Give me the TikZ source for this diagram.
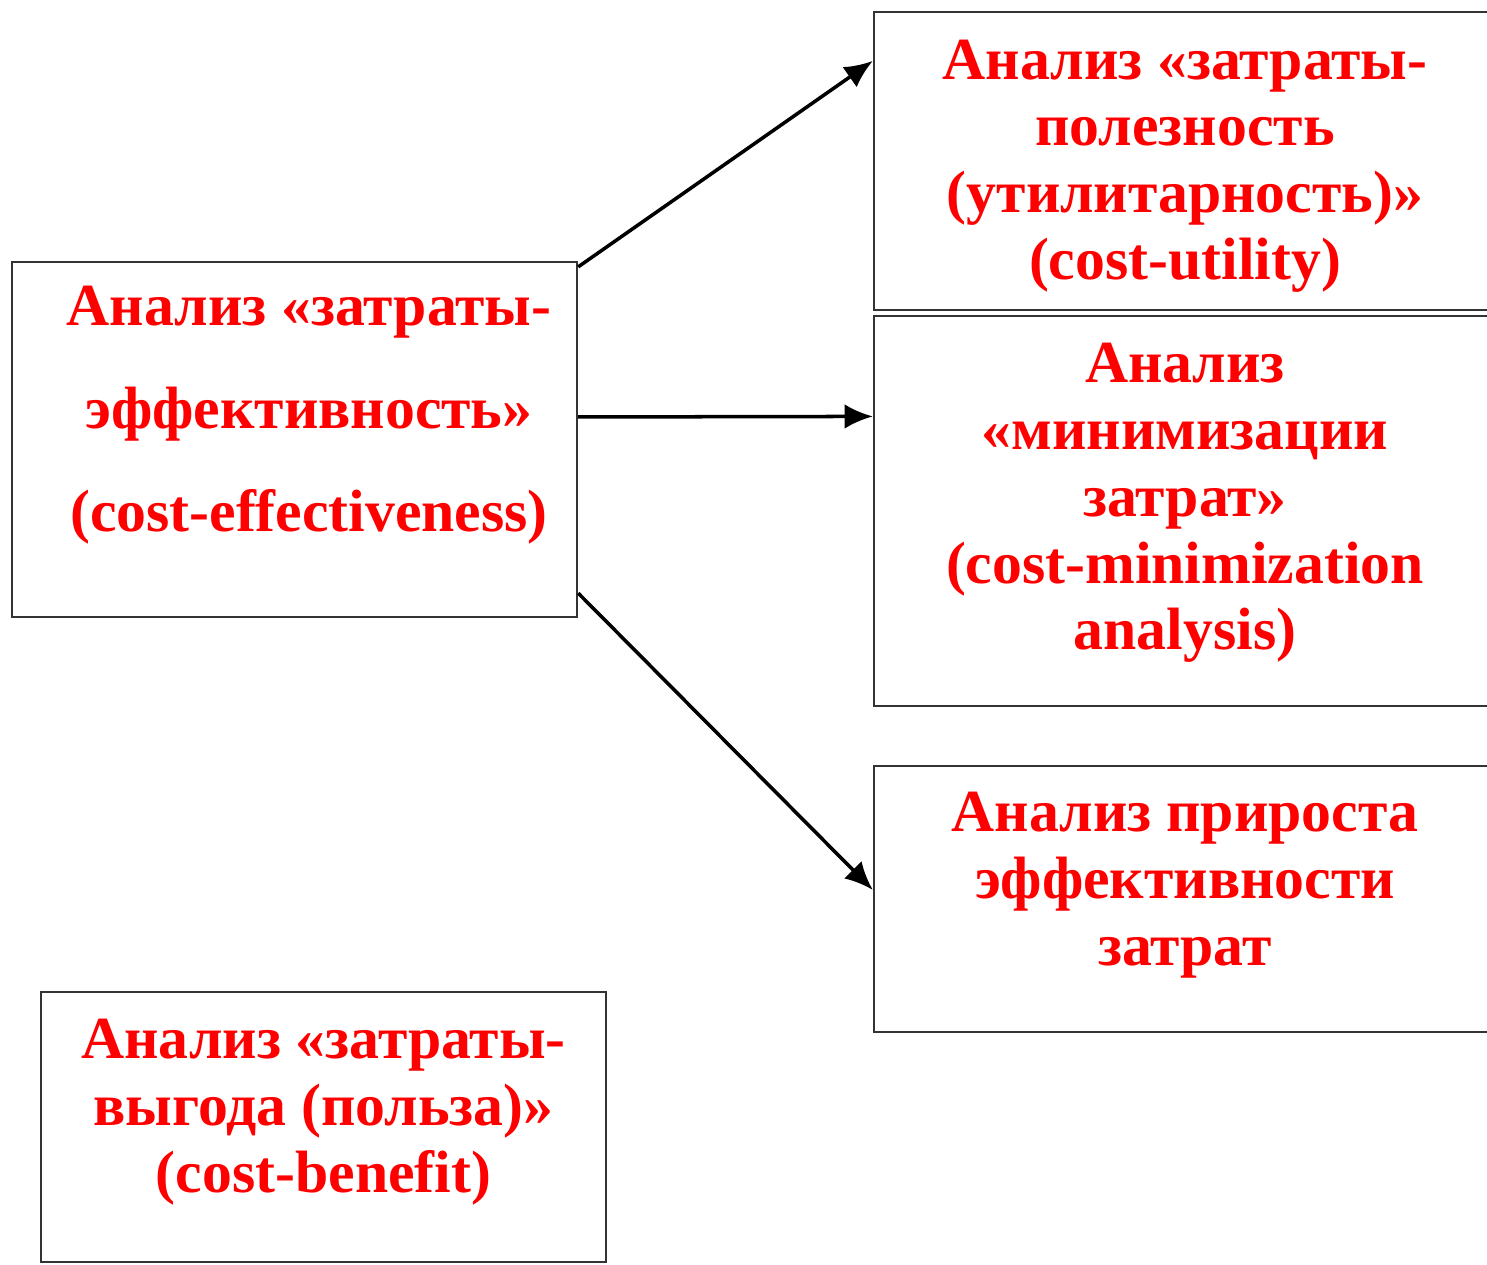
\documentclass[tikz,border=0pt]{standalone}
\usepackage{fontspec}
\setmainfont{Liberation Serif}
\usetikzlibrary{arrows.meta}
\usetikzlibrary{calc}

\tikzset{
	box/.style={draw=black!80,line width=0.7pt,rectangle,inner sep=0pt},
	txt/.style={text=red,font=\bfseries\fontsize{17}{19}\selectfont,align=center,inner sep=0pt},
	arr/.style={-{Latex[length=8pt,width=7pt]},line width=1pt}
}

\begin{document}
\begin{tikzpicture}
	\useasboundingbox (0,0) rectangle (14.87,-12.65);
	\node [box,minimum width=5.65cm,minimum height=3.55cm] (main) at (2.945,-4.395) {};
	\node [box,minimum width=6.22cm,minimum height=2.98cm] (util) at (11.85,-1.61) {};
	\node [box,minimum width=6.22cm,minimum height=3.90cm] (mini) at (11.85,-5.11) {};
	\node [box,minimum width=6.22cm,minimum height=2.66cm] (incr) at (11.85,-8.99) {};
	\node [box,minimum width=5.65cm,minimum height=2.70cm] (bene) at (3.235,-11.27) {};

	\node [txt,font=\bfseries\fontsize{17}{29.3}\selectfont] (mainT) at ($(main.center)+(0.145,0.245)$) {Анализ «затраты-\\эффективность»\\(cost-effectiveness)};
	\node [txt] (utilT) at ($(util.center)+(0,-0.05)$) {Анализ «затраты-\\полезность\\(утилитарность)»\\(cost-utility)};
	\node [txt] (miniT) at ($(mini.center)+(0,0.08)$) {Анализ\\«минимизации\\затрат»\\(cost-minimization\\analysis)};
	\node [txt] (incrT) at ($(incr.center)+(0,0.14)$) {Анализ прироста\\эффективности\\затрат};
	\node [txt] (beneT) at ($(bene.center)+(0,0.15)$) {Анализ «затраты-\\выгода (польза)»\\(cost-benefit)};

	\draw [arr] ($(main.north east)!0.017!(main.south east)$) -- ($(util.north west)!0.167!(util.south west)$);
	\draw [arr] ($(main.north east)!0.437!(main.south east)$) -- ($(mini.north west)!0.259!(mini.south west)$);
	\draw [arr] ($(main.north east)!0.93!(main.south east)$) -- ($(incr.north west)!0.466!(incr.south west)$);
\end{tikzpicture}
\end{document}
